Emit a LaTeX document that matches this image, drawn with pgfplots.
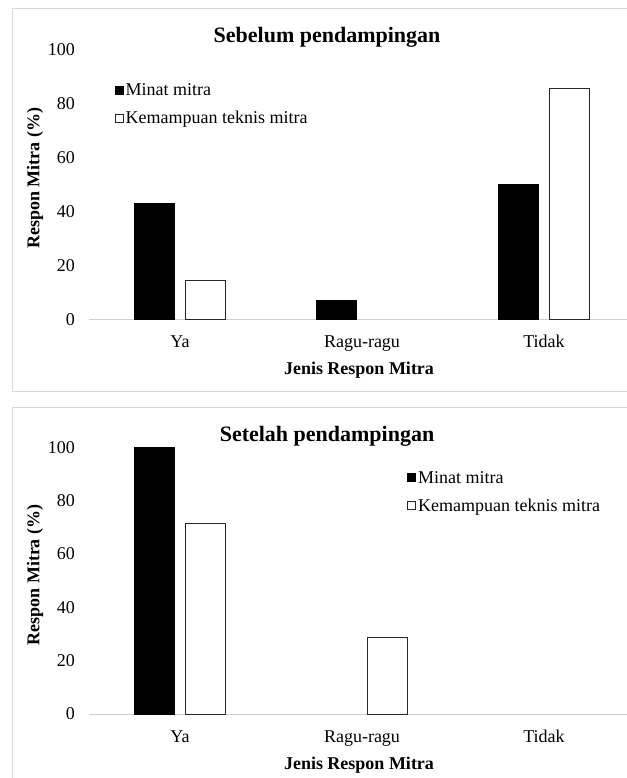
\documentclass[border=0pt]{standalone}
\usepackage{fontspec}
\setmainfont{Liberation Serif}
\usepackage{pgfplots}
\pgfplotsset{compat=1.18}

\definecolor{framegray}{HTML}{D9D9D9}
\definecolor{axisgray}{HTML}{CFCFCF}

% shared look of both panels
\pgfplotsset{
  respon/.style={
    scale only axis, width=546bp,
    xmin=-0.5, xmax=2.5, ymin=0, ymax=100,
    axis x line*=bottom, axis y line*=left,
    x axis line style={draw=axisgray, line width=0.9bp, -},
    y axis line style={draw=none},
    major tick length=0pt,
    xtick={0,1,2}, xticklabels={Ya, Ragu-ragu, Tidak},
    ytick={0,20,...,100},
    /pgf/number format/assume math mode=true,
    yticklabel style={anchor=east, inner sep=0pt, xshift=-14bp},
    xticklabel style={anchor=base, inner sep=0pt, yshift=-28.7bp},
    ylabel={\textbf{Respon Mitra (\%)}},
    xlabel={\textbf{Jenis Respon Mitra}},
    xlabel style={at={(axis description cs:0.4945,0)}, anchor=base, inner sep=0pt, yshift=-55.7bp},
    title style={anchor=base, inner sep=0pt, font=\fontsize{22bp}{26bp}\selectfont},
    ybar=11bp, bar width=40bp,
    legend cell align=left,
    legend image code/.code={\draw[##1, line width=0.7bp] (0bp,-2.5bp) rectangle (8bp,5.5bp);},
    legend style={draw=none, fill=none, anchor=north west, inner sep=0pt, outer sep=0pt,
      nodes={inner sep=0pt, text height=13bp, text depth=4bp}, row sep=11bp,
      /tikz/every odd column/.append style={column sep=2.5bp}},
    clip=false,
  },
  minat/.style={fill=black, draw=black, line width=0.7bp},
  teknis/.style={fill=white, draw=black!85, line width=0.9bp},
}

\begin{document}
\fontsize{18bp}{21bp}\selectfont
\begin{tikzpicture}[x=1bp, y=1bp]
\useasboundingbox (0,0) rectangle (627,778);

% panel frames
\draw[framegray, line width=1bp] (12,769) rectangle (700,386);
\draw[framegray, line width=1bp] (12,370) rectangle (700,-30);

% before mentoring
\begin{axis}[respon, at={(89bp,458.7bp)}, anchor=south west, height=269.6bp,
  title={\textbf{Sebelum pendampingan}},
  title style={at={(axis description cs:0.436,1)}, yshift=1.7bp},
  ylabel style={at={(axis description cs:-0.0989,0.524)}, anchor=center, inner sep=0pt},
  legend style={at={(axis description cs:0.0467,0.8765)}},
]
\addplot[minat] coordinates {(0,42.86) (1,7.14) (2,50)};
\addplot[teknis] coordinates {(0,14.29) (2,85.71)};
\legend{Minat mitra, Kemampuan teknis mitra}
\end{axis}

% after mentoring
\begin{axis}[respon, at={(89bp,64bp)}, anchor=south west, height=266.5bp,
  title={\textbf{Setelah pendampingan}},
  title style={at={(axis description cs:0.436,1)}, yshift=0bp},
  ylabel style={at={(axis description cs:-0.0989,0.5216)}, anchor=center, inner sep=0pt},
  legend style={at={(axis description cs:0.5824,0.913)}},
]
\addplot[minat] coordinates {(0,100)};
\addplot[teknis] coordinates {(0,71.43) (1,28.57)};
\legend{Minat mitra, Kemampuan teknis mitra}
\end{axis}
\end{tikzpicture}
\end{document}
